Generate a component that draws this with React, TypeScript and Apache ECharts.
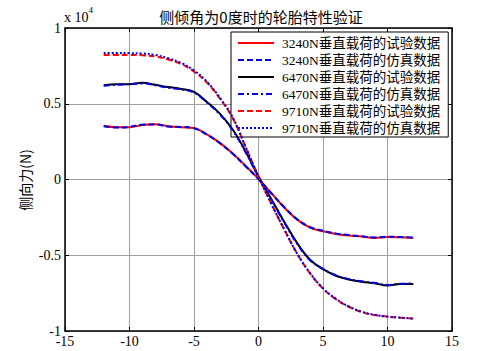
import React, { useEffect, useRef } from "react";
import * as echarts from "echarts";

const xValues = [-12, -11, -10, -9, -8, -7, -6, -5, -4, -3, -2, -1, 0, 1, 2, 3, 4, 5, 6, 7, 8, 9, 10, 11, 12];

const test3240 = [0.355, 0.345, 0.345, 0.36, 0.365, 0.352, 0.345, 0.34, 0.298, 0.242, 0.172, 0.09, 0.005, -0.09, -0.185, -0.265, -0.318, -0.342, -0.36, -0.37, -0.377, -0.386, -0.38, -0.382, -0.386];
const sim3240 = [0.352, 0.343, 0.347, 0.362, 0.363, 0.35, 0.347, 0.338, 0.296, 0.24, 0.17, 0.088, 0.003, -0.092, -0.183, -0.262, -0.315, -0.338, -0.357, -0.367, -0.375, -0.383, -0.378, -0.38, -0.383];

const test6470 = [0.622, 0.628, 0.628, 0.638, 0.625, 0.61, 0.598, 0.578, 0.512, 0.435, 0.33, 0.185, 0.02, -0.13, -0.28, -0.42, -0.53, -0.592, -0.635, -0.66, -0.675, -0.685, -0.7, -0.69, -0.69];
const sim6470 = [0.618, 0.625, 0.63, 0.634, 0.622, 0.606, 0.595, 0.574, 0.508, 0.43, 0.325, 0.18, 0.015, -0.135, -0.285, -0.425, -0.533, -0.59, -0.632, -0.657, -0.672, -0.682, -0.696, -0.688, -0.687];

const test9710 = [0.822, 0.822, 0.822, 0.82, 0.812, 0.792, 0.762, 0.712, 0.64, 0.535, 0.405, 0.215, 0.02, -0.16, -0.33, -0.49, -0.62, -0.72, -0.79, -0.84, -0.875, -0.895, -0.905, -0.912, -0.918];
const sim9710 = [0.835, 0.835, 0.834, 0.832, 0.822, 0.8, 0.77, 0.72, 0.646, 0.54, 0.41, 0.215, 0.018, -0.162, -0.33, -0.49, -0.618, -0.718, -0.788, -0.838, -0.873, -0.893, -0.905, -0.912, -0.918];

const seriesNames = [
  "3240N垂直载荷的试验数据",
  "3240N垂直载荷的仿真数据",
  "6470N垂直载荷的试验数据",
  "6470N垂直载荷的仿真数据",
  "9710N垂直载荷的试验数据",
  "9710N垂直载荷的仿真数据",
];

const titleText = "侧倾角为0度时的轮胎特性验证";
const yAxisTitle = "侧向力(N)";

const serif = "'Liberation Serif', 'Times New Roman', 'Noto Sans CJK SC', serif";
const cjk = "'Noto Sans CJK SC', sans-serif";

const RED = "#ff0000";
const BLUE = "#0000e6";
const BLACK = "#000000";

export default function App() {
  const ref = useRef<HTMLDivElement>(null);
  useEffect(() => {
    if (!ref.current) return;
    const chart = echarts.init(ref.current, null, { renderer: "svg" });
    const pair = (arr: number[]) => xValues.map((x, i) => [x, arr[i]]);
    const styles: any[] = [
      { color: RED, type: "solid" },
      { color: BLUE, type: [6, 3] },
      { color: BLACK, type: "solid" },
      { color: BLUE, type: [6, 3, 2, 3] },
      { color: RED, type: [6, 3] },
      { color: BLUE, type: [2, 2] },
    ];
    const datas = [test3240, sim3240, test6470, sim6470, test9710, sim9710];
    const axisLine = { show: true, onZero: false, lineStyle: { color: "#000", width: 1.5 } };
    const axisTick = { show: true, inside: true, length: 4, lineStyle: { color: "#000" } };
    const option: any = {
      animation: false,
      backgroundColor: "#fff",
      title: {
        text: titleText,
        left: 256,
        top: 4,
        textAlign: "center",
        textStyle: { fontFamily: cjk, fontSize: 15, fontWeight: "normal", color: "#000" },
      },
      grid: { left: 65, right: 37, top: 28, bottom: 20 },
      legend: {
        data: seriesNames,
        orient: "vertical",
        left: 231,
        top: 32,
        padding: [4, 8, 2, 6],
        itemGap: 3,
        itemWidth: 36,
        itemHeight: 14,
        backgroundColor: "#fff",
        borderColor: "#000",
        borderWidth: 1,
        borderRadius: 0,
        itemStyle: { opacity: 0 },
        textStyle: { fontFamily: serif, fontSize: 13.5, color: "#000", lineHeight: 14, padding: [0, 0, 0, 3] },
      },
      xAxis: [
        {
          type: "value",
          min: -15,
          max: 15,
          interval: 5,
          axisLine,
          axisTick,
          axisLabel: { color: "#000", fontFamily: serif, fontSize: 14, margin: 3 },
          splitLine: { show: true, lineStyle: { color: "#a0a0a0", width: 1 } },
        },
        {
          type: "value",
          position: "top",
          min: -15,
          max: 15,
          interval: 5,
          axisLine,
          axisTick,
          axisLabel: { show: false },
          splitLine: { show: false },
        },
      ],
      yAxis: [
        {
          type: "value",
          min: -1,
          max: 1,
          interval: 0.5,
          axisLine,
          axisTick,
          axisLabel: { color: "#000", fontFamily: serif, fontSize: 14, margin: 4 },
          splitLine: { show: true, lineStyle: { color: "#a0a0a0", width: 1 } },
        },
        {
          type: "value",
          position: "right",
          min: -1,
          max: 1,
          interval: 0.5,
          axisLine,
          axisTick,
          axisLabel: { show: false },
          splitLine: { show: false },
        },
      ],
      graphic: [
        {
          type: "text",
          left: 64,
          top: 5,
          style: {
            text: "{a|x 10}{b|4}",
            rich: {
              a: { fontFamily: serif, fontSize: 14, fill: "#000", padding: [6, 0, 0, 0] },
              b: { fontFamily: serif, fontSize: 9, fill: "#000", verticalAlign: "top" },
            },
          },
        },
        {
          type: "text",
          x: 25,
          y: 180,
          rotation: Math.PI / 2,
          style: {
            text: yAxisTitle,
            fontFamily: cjk,
            fontSize: 14,
            fill: "#000",
            align: "center",
            verticalAlign: "middle",
          },
        },
      ],
      series: seriesNames.map((name, i) => ({
        name,
        type: "line",
        data: pair(datas[i]),
        showSymbol: false,
        symbol: "none",
        smooth: 0.4,
        lineStyle: { color: styles[i].color, type: styles[i].type, width: 2 },
        itemStyle: { color: styles[i].color, opacity: 0 },
        z: 2 + i,
      })),
    };
    chart.setOption(option);
    return () => chart.dispose();
  }, []);
  return <div ref={ref} style={{ position: "absolute", left: 0, top: 0, width: 489, height: 351 }} />;
}
